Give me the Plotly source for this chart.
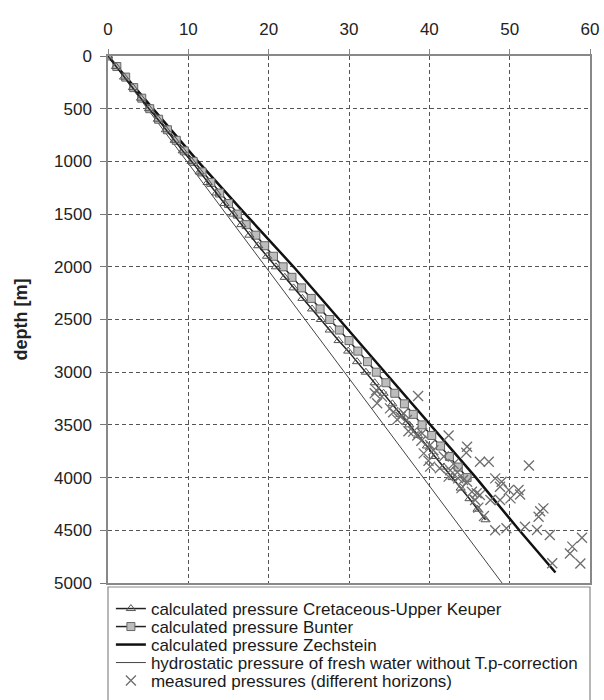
import plotly.graph_objects as go

# ---------------- data ----------------
depth_100 = [d * 100 for d in range(0, 45)]  # sampled depths (m)

cret_depth = depth_100[:45]
cret_p = [0.0, 1.0, 2.0, 3.1, 4.1, 5.1, 6.2, 7.2, 8.3, 9.3,
          10.4, 11.4, 12.4, 13.5, 14.5, 15.6, 16.6, 17.6, 18.7, 19.8,
          20.9, 22.0, 23.1, 24.2, 25.4, 26.5, 27.6, 28.7, 29.9, 31.0,
          32.1, 33.2, 34.3, 35.4, 36.4, 37.5, 38.6, 39.7, 40.7, 41.8,
          42.9, 43.9, 45.0, 46.0, 47.0]

bunt_depth = depth_100[:41]
bunt_p = [0.0, 1.1, 2.2, 3.2, 4.2, 5.2, 6.3, 7.4, 8.5, 9.5,
          10.6, 11.7, 12.8, 13.9, 15.0, 16.1, 17.2, 18.4, 19.5, 20.6,
          21.8, 22.9, 24.1, 25.3, 26.4, 27.6, 28.8, 30.0, 31.1, 32.3,
          33.4, 34.6, 35.7, 36.9, 38.0, 39.1, 40.3, 41.4, 42.5, 43.6,
          44.7]

zech_depth = [0, 500, 1000, 1500, 2000, 2500, 3000, 3500, 4000, 4500, 4900]
zech_p = [0.0, 5.6, 11.2, 17.1, 23.1, 28.8, 34.5, 40.2, 45.8, 51.2, 55.7]

hydro_depth = [0, 5000]
hydro_p = [0.0, 49.05]

meas_p = [33.2, 33.4, 34.1, 33.5, 35.1, 36.4, 36.8, 37.2, 38.0, 37.4,
          38.6, 39.1, 40.1, 39.0, 42.4, 39.3, 39.9, 40.1, 41.3, 42.6,
          42.4, 43.6, 44.2, 44.7, 44.6, 46.3, 47.4, 52.4, 44.7, 45.3,
          45.9, 46.3, 45.7, 46.1, 46.8, 47.6, 48.2, 49.0, 48.8, 48.8,
          49.9, 50.1, 51.1, 51.3, 48.2, 49.6, 51.9, 53.4, 53.8, 54.2,
          53.6, 55.0, 55.3, 59.0, 57.8, 57.5, 58.8, 35.5, 36.0, 38.5,
          40.5, 41.8, 43.0, 43.5, 44.0]
meas_d = [3200, 3170, 3232, 3295, 3343, 3422, 3390, 3454, 3564, 3560,
          3226, 3580, 3691, 3650, 3600, 3770, 3840, 3896, 3912, 3930,
          3991, 4007, 4023, 3707, 3765, 3849, 3849, 3885, 4039, 4134,
          4149, 4165, 4213, 4285, 4365, 4213, 4007, 4039, 4087, 4213,
          4118, 4197, 4118, 4160, 4500, 4481, 4466, 4497, 4320, 4292,
          4371, 4545, 4813, 4570, 4655, 4720, 4815, 3380, 3450, 3600,
          3740, 3800, 3870, 3950, 4100]

x_ticks = [0, 10, 20, 30, 40, 50, 60]
y_ticks = [0, 500, 1000, 1500, 2000, 2500, 3000, 3500, 4000, 4500, 5000]

FONT = "Liberation Sans, Arial, sans-serif"

# ---------------- figure ----------------
fig = go.Figure()

fig.add_trace(go.Scatter(
    x=hydro_p, y=hydro_depth, mode="lines",
    name="hydrostatic pressure of fresh water without T.p-correction",
    line=dict(color="#444444", width=1), legend="legend4"))

fig.add_trace(go.Scatter(
    x=zech_p, y=zech_depth, mode="lines",
    name="calculated pressure Zechstein",
    line=dict(color="#111111", width=2.5), legend="legend3"))

fig.add_trace(go.Scatter(
    x=bunt_p, y=bunt_depth, mode="lines+markers",
    name="calculated pressure Bunter",
    line=dict(color="#222222", width=1.5),
    marker=dict(symbol="square", size=8, color="#bdbdbd",
                line=dict(color="#666666", width=1)), legend="legend2"))

fig.add_trace(go.Scatter(
    x=cret_p, y=cret_depth, mode="lines+markers",
    name="calculated pressure Cretaceous-Upper Keuper",
    line=dict(color="#222222", width=1.5),
    marker=dict(symbol="triangle-up-open", size=8, color="#555555",
                line=dict(width=1)), legend="legend"))

fig.add_trace(go.Scatter(
    x=meas_p, y=meas_d, mode="markers",
    name="measured pressures (different horizons)",
    marker=dict(symbol="x-thin-open", size=10, color="#6e6e6e",
                line=dict(width=1.3, color="#6e6e6e")), legend="legend5"))

axis_font = dict(family=FONT, size=17, color="#222222")

fig.update_xaxes(
    side="top", range=[0, 60], tickvals=x_ticks, ticks="outside", ticklen=5,
    tickcolor="#888888", showline=True, linecolor="#888888", linewidth=1.5, mirror=True,
    showgrid=True, gridcolor="#555555", griddash="4px,3px", gridwidth=1,
    zeroline=False, tickfont=axis_font, ticklabelstandoff=7)

H = 644.0  # paper height in px (700 - top margin)
fig.update_yaxes(
    domain=[117 / H, 1],
    range=[5000, 0], tickvals=y_ticks, ticks="outside", ticklen=6,
    tickcolor="#777777", showline=True, linecolor="#888888", linewidth=1.5, mirror=True,
    showgrid=True, gridcolor="#555555", griddash="4px,3px", gridwidth=1,
    zeroline=False, tickfont=axis_font, ticklabelstandoff=5,
    title=dict(text="<b>depth [m]</b>", font=dict(family=FONT, size=18, color="#222222"),
               standoff=22))

fig.add_shape(type="rect", xref="paper", yref="paper",
              x0=0, x1=1, y0=-0.01, y1=(700 - 587) / H,
              line=dict(color="#888888", width=1.2), fillcolor="rgba(0,0,0,0)")

leg_common = dict(x=0.006, xanchor="left", yanchor="middle",
                  font=dict(family=FONT, size=17, color="#1a1a1a"),
                  bgcolor="rgba(0,0,0,0)", borderwidth=0, itemwidth=30)
row_px = [609, 627, 645, 663, 681]

fig.update_layout(
    width=604, height=700,
    margin=dict(l=108, r=14, t=56, b=0, autoexpand=False),
    plot_bgcolor="white", paper_bgcolor="white",
    showlegend=True,
    legend=dict(y=(700 - row_px[0]) / H, **leg_common),
    legend2=dict(y=(700 - row_px[1]) / H, **leg_common),
    legend3=dict(y=(700 - row_px[2]) / H, **leg_common),
    legend4=dict(y=(700 - row_px[3]) / H, **leg_common),
    legend5=dict(y=(700 - row_px[4]) / H, **leg_common),
)

fig.write_html("out.html")
